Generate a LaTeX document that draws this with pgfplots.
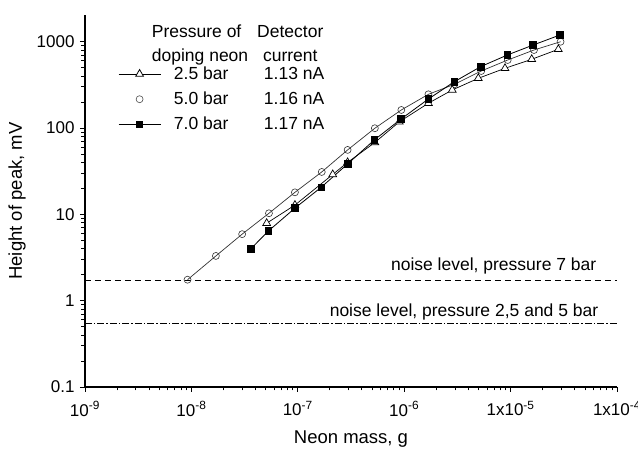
\documentclass[border=0pt]{standalone}
\usepackage{pgfplots}
\pgfplotsset{compat=1.18}
\usepackage{fontspec}
\setmainfont{Liberation Sans}
\begin{document}
\begin{tikzpicture}[font=\fontsize{17.5}{21}\selectfont]
\begin{axis}[
  scale only axis,
  width=532pt, height=372pt,
  xmode=log, ymode=log,
  xmin=1e-9, xmax=1e-4,
  ymin=0.1, ymax=2040,
  axis lines=left,
  axis line style={-, line width=1.3pt},
  tick align=outside,
  major tick length=5pt, minor tick length=3.5pt,
  every tick/.style={black, line width=0.9pt},
  xtick={1e-9,1e-8,1e-7,1e-6,1e-5,1e-4},
  xticklabels={10\textsuperscript{-9},10\textsuperscript{-8},10\textsuperscript{-7},10\textsuperscript{-6},1x10\textsuperscript{-5},1x10\textsuperscript{-4}},
  ytick={0.1,1,10,100,1000},
  yticklabels={0.1,1,10,100,1000},
  tick label style={font=\fontsize{17}{20}\selectfont},
  xticklabel style={yshift=-6pt},
  yticklabel style={xshift=-2pt},
  xlabel={Neon mass, g},
  ylabel={Height of peak, mV},
  label style={font=\fontsize{18.5}{22}\selectfont},
  xlabel style={yshift=-8pt},
  ylabel style={yshift=4pt},
  clip=false,
  legend style={draw=none, fill=none, at={(rel axis cs:0.0564,0.7736)}, anchor=west,
    nodes={inner sep=0pt}, row sep=11pt, cells={anchor=west},
    font=\fontsize{17.5}{21}\selectfont,
    /tikz/every odd column/.append style={column sep=13pt}},
  legend image code/.code={\draw[mark repeat=2,mark phase=2,#1] plot coordinates {(0pt,0pt) (21pt,0pt) (42pt,0pt)};},
]
\addlegendimage{black, line width=0.8pt, mark=triangle*, mark options={fill=white, solid}, mark size=4.5pt}
\addlegendentry{\makebox[90pt][l]{2.5 bar}1.13 nA}
\addlegendimage{only marks, black!70, mark=o, mark size=3.5pt, mark options={line width=0.6pt}}
\addlegendentry{\makebox[90pt][l]{5.0 bar}1.16 nA}
\addlegendimage{black, line width=0.8pt, mark=square*, mark size=3.3pt}
\addlegendentry{\makebox[90pt][l]{7.0 bar}1.17 nA}

% noise levels
\addplot[forget plot, black, line width=0.8pt, dash pattern=on 6pt off 4pt] coordinates {(1e-9,1.7) (1e-4,1.7)};
\addplot[forget plot, black, line width=0.7pt, dash pattern=on 7pt off 2pt on 1.5pt off 2pt] coordinates {(1e-9,0.54) (1e-4,0.54)};

% 5.0 bar (circles)
\addplot[forget plot, black!80, line width=0.7pt, mark=o, mark size=3.5pt, mark options={fill=white, line width=0.6pt}] coordinates {
(9.2e-9,1.75) (1.7e-8,3.3) (3.0e-8,5.9) (5.36e-8,10.3) (9.4e-8,18) (1.68e-7,31)
(2.94e-7,55.8) (5.3e-7,99.5) (9.4e-7,162) (1.69e-6,246) (2.96e-6,321)
(5.3e-6,458) (9.4e-6,614) (1.66e-5,802) (2.95e-5,1000)};

% 2.5 bar (triangles)
\addplot[forget plot, black, line width=0.7pt, mark=triangle*, mark size=4.5pt, mark options={fill=white}] coordinates {
(5.1e-8,7.9) (9.4e-8,12.8) (2.13e-7,29) (2.94e-7,40) (5.3e-7,68) (9.0e-7,118)
(1.69e-6,194) (2.83e-6,276) (4.97e-6,377) (8.86e-6,492) (1.58e-5,626) (2.81e-5,817)};

% 7.0 bar (squares)
\addplot[forget plot, black, line width=0.8pt, mark=square*, mark size=3.3pt] coordinates {
(3.63e-8,4.0) (5.28e-8,6.4) (9.4e-8,11.8) (1.66e-7,20.6) (2.94e-7,38.4)
(5.24e-7,72.8) (9.33e-7,127) (1.69e-6,217) (2.96e-6,344) (5.23e-6,514)
(9.3e-6,701) (1.63e-5,916) (2.91e-5,1196)};

\node[anchor=base east] at (axis cs:6.9e-5,2.22) {noise level, pressure 7 bar};
\node[anchor=base east] at (axis cs:7.2e-5,0.652) {noise level, pressure 2,5 and 5 bar};
\node[anchor=base west, inner sep=0pt, font=\fontsize{17.5}{24}\selectfont] at (rel axis cs:0.1254,0.940)
  {\begin{tabular}[t]{@{}l@{\hspace{9pt}}c@{}}Pressure of & Detector\\ doping neon & current\end{tabular}};
\end{axis}
\pgfresetboundingbox
\path[use as bounding box] (-85pt,-66pt) rectangle (553pt,387pt);
\end{tikzpicture}
\end{document}
